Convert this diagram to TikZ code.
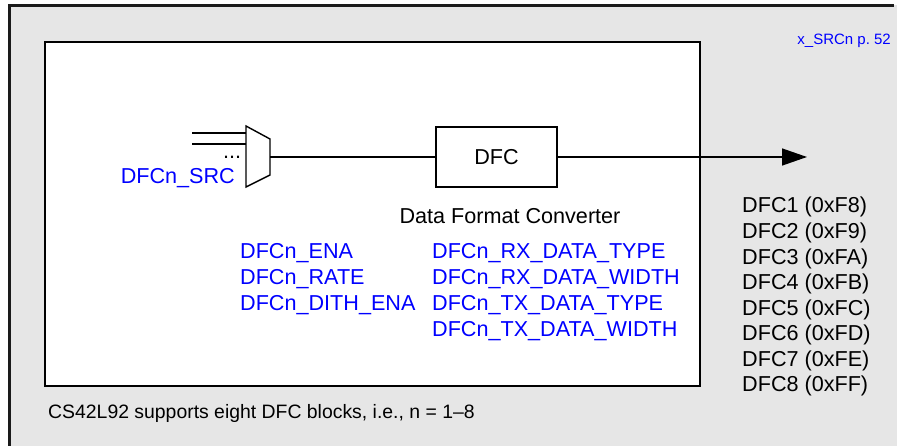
\documentclass[tikz,border=0pt]{standalone}
\usepackage{fontspec}
\setmainfont{Liberation Sans}
\usepackage{tikz}
\usetikzlibrary{arrows.meta}
\definecolor{panel}{HTML}{E6E6E6}
\definecolor{frameline}{HTML}{1A1A1A}
\definecolor{regblue}{HTML}{0000FF}

\begin{document}
\begin{tikzpicture}[x=1pt, y=-1pt,
  lbl/.style={inner sep=0pt, font=\fontsize{21.6}{25.5}\selectfont},
  reg/.style={lbl, text=regblue, anchor=base west},
  blk/.style={draw=black, line width=1.4pt, fill=white, inner sep=0pt,
    minimum width=121pt, minimum height=60pt, font=\fontsize{21.6}{25.5}\selectfont},
  wire/.style={draw=black, line width=1.4pt},
  flow/.style={wire, -{Triangle[length=25pt, width=17pt]}},
]
  \useasboundingbox (0,0) rectangle (897,446);
  % panel and frame
  \fill[panel] (9.5,5.5) rectangle (897,446);
  \draw[frameline, line width=3pt] (9.5,446) -- (9.5,5.5) -- (894,5.5);
  \draw[black, line width=2.2pt, fill=white] (45,42) rectangle (700,386);

  % source select mux
  \coordinate (in1) at (192,133);
  \coordinate (in2) at (192,144);
  \coordinate (muxin1) at (246,133);
  \coordinate (muxin2) at (246,144);
  \coordinate (muxout) at (270,157);
  \draw[wire, fill=white] (246,126) -- (270,139) -- (270,175) -- (246,187) -- cycle;
  \draw[wire] (in1) -- (muxin1);
  \draw[wire] (in2) -- (muxin2);
  \node[lbl, anchor=base] (dots) at (232,159) {...};
  \node[lbl, text=regblue, anchor=base east] (srcsel) at (235,184) {DFCn\_SRC};

  \node[blk] (dfc) at (496.5,157) {DFC};
  \coordinate (out) at (807,157);
  \draw[wire] (muxout) -- (dfc.west);
  \draw[flow] (dfc.east) -- (out);

  \node[lbl, anchor=base] (dfcname) at (510,223.5) {Data Format Converter};

  \foreach \r [count=\i from 0] in {ENA,RATE,DITH\_ENA}
    \node[reg] (ctl\i) at (240,259+25.67*\i) {DFCn\_\r};
  \foreach \r [count=\i from 0] in {RX\_DATA\_TYPE,RX\_DATA\_WIDTH,TX\_DATA\_TYPE,TX\_DATA\_WIDTH}
    \node[reg] (fmt\i) at (432,259+25.67*\i) {DFCn\_\r};

  \foreach \n/\a [count=\i from 0] in {1/F8,2/F9,3/FA,4/FB,5/FC,6/FD,7/FE,8/FF}
    \node[lbl, anchor=base west] (dfc\n) at (742,213+25.57*\i) {DFC\n{} (0x\a)};

  \node[lbl, font=\fontsize{19.4}{24}\selectfont, anchor=base west] (note) at (48,418)
    {CS42L92 supports eight DFC blocks, i.e., n = 1--8};
  \node[lbl, font=\fontsize{15}{18}\selectfont, text=regblue, anchor=base east] (xref)
    at (891,45) {x\_SRCn p.~52};
\end{tikzpicture}
\end{document}
